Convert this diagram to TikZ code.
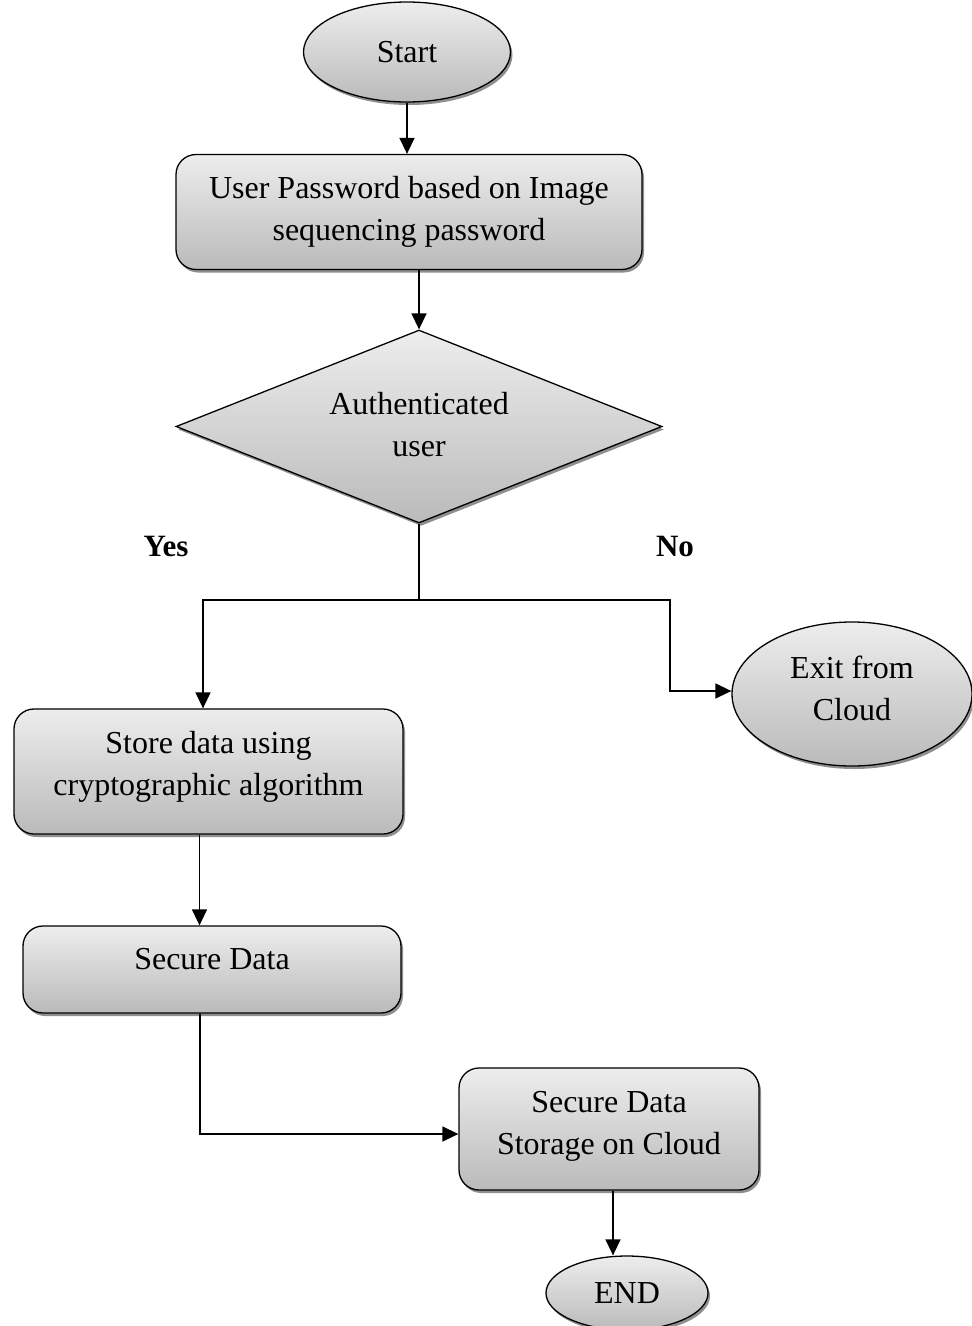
\documentclass[tikz,border=0pt]{standalone}
\usepackage{fontspec}
\setmainfont{Liberation Serif}
\usetikzlibrary{shapes.geometric,arrows.meta,shadows}
\begin{document}
\begin{tikzpicture}[x=1pt,y=-1pt,
  base/.style={draw=black,line width=1.3pt,top color=black!7,bottom color=black!27,
    drop shadow={shadow xshift=2pt,shadow yshift=-3pt,fill=black!55,opacity=0.8},
    inner sep=0pt,align=center,font=\fontsize{32}{42}\selectfont},
  procbox/.style={base,rectangle,rounded corners=20pt},
  termin/.style={base,ellipse},
  decide/.style={base,diamond,aspect=2.52},
  lbl/.style={font=\fontsize{31}{36}\selectfont\bfseries,inner sep=0pt},
  conn/.style={line width=1.5pt},
  arr/.style={conn,-{Triangle[length=16pt,width=15pt]}}]
\useasboundingbox (0,0) rectangle (972,1326);

\node[termin,minimum width=207pt,minimum height=100pt] (start) at (407,52) {Start};
\node[procbox,minimum width=466pt,minimum height=115pt] (pwd) at (409,212)
  {User Password based on Image\\sequencing password};
\node[decide,minimum width=486pt,minimum height=193pt,text depth=4pt] (auth) at (419,426.5)
  {Authenticated\\user};
\node[lbl] (yes) at (166,546) {Yes};
\node[lbl] (no) at (675,546) {No};
\node[procbox,minimum width=389pt,minimum height=125pt,text depth=16pt] (store) at (208.5,771.5)
  {Store data using\\cryptographic algorithm};
\node[termin,minimum width=240pt,minimum height=144pt,text depth=11pt] (exit) at (852,694)
  {Exit from\\Cloud};
\node[procbox,minimum width=378pt,minimum height=87pt,text depth=22pt] (secure) at (212,969.5)
  {Secure Data};
\node[procbox,minimum width=300pt,minimum height=122pt,text depth=13pt] (storage) at (609,1129)
  {Secure Data\\Storage on Cloud};
\node[termin,minimum width=162pt,minimum height=74pt] (end) at (627,1293) {END};

\coordinate (j) at (419,600);
\coordinate (jl) at (203,600);
\coordinate (jr) at (670,600);

\draw[arr] (start.south) -- (start.south |- pwd.north);
\draw[arr] (auth.north |- pwd.south) -- (auth.north);
\draw[conn] (auth.south) -- (j);
\draw[arr] (j) -- (jl) -- (jl |- store.north);
\draw[arr] (j) -- (jr) |- ([yshift=3pt]exit.west);
\draw[arr] ([xshift=-9pt]store.south) -- ([xshift=-9pt]store.south |- secure.north);
\draw[arr] ([xshift=-12pt]secure.south) |- ([yshift=-5pt]storage.west);
\draw[arr] ([xshift=4pt]storage.south) -- ([xshift=4pt]storage.south |- end.north);
\end{tikzpicture}
\end{document}
